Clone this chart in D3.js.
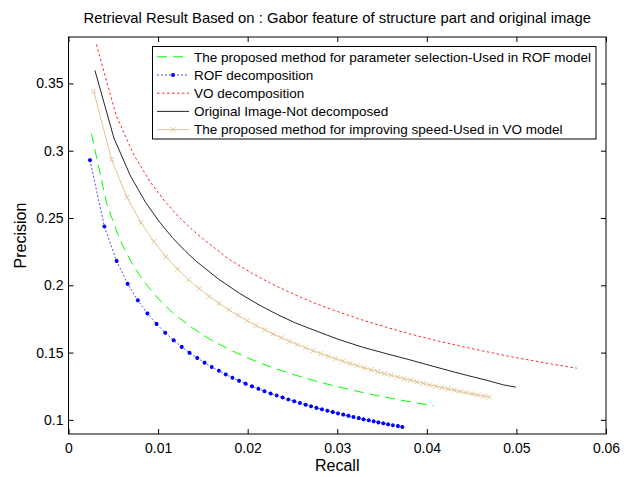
<!DOCTYPE html>
<html>
<head>
<meta charset="utf-8">
<script src="https://cdn.jsdelivr.net/npm/d3@7"></script>
<style>
  body { margin: 0; background: #fff; }
  svg { display: block; }
  text { font-family: "Liberation Sans", Arial, sans-serif; fill: #000; }
</style>
</head>
<body>
<div id="chart"></div>
<script>
// Values (recall on x, precision on y)
const recallProposedROF = [0.00256, 0.00427, 0.00575, 0.00709, 0.00834, 0.00953, 0.01066, 0.01174, 0.01381, 0.01575, 0.01761, 0.01939, 0.02111, 0.02278, 0.02518, 0.02750, 0.02975, 0.03193, 0.03404, 0.03611, 0.03813, 0.03946, 0.04074];
const precisionProposedROF = [0.3127, 0.2604, 0.2337, 0.2162, 0.2035, 0.1937, 0.1857, 0.1790, 0.1684, 0.1601, 0.1534, 0.1478, 0.1430, 0.1389, 0.1335, 0.1290, 0.1251, 0.1217, 0.1186, 0.1159, 0.1134, 0.1119, 0.1104];

const recallROF = [0.00240, 0.00400, 0.00537, 0.00660, 0.00774, 0.00881, 0.00983, 0.01080, 0.01174, 0.01264,
  0.01351, 0.01437, 0.01519, 0.01599, 0.01679, 0.01755, 0.01830, 0.01904, 0.01977, 0.02048,
  0.02120, 0.02188, 0.02256, 0.02324, 0.02390, 0.02454, 0.02520, 0.02583, 0.02647, 0.02708,
  0.02768, 0.02829, 0.02890, 0.02950, 0.03008, 0.03067, 0.03125, 0.03181, 0.03240, 0.03293,
  0.03352, 0.03406, 0.03459, 0.03514, 0.03568, 0.03621, 0.03677, 0.03727];
const precisionROF = [0.2930, 0.2437, 0.2181, 0.2011, 0.1888, 0.1791, 0.1713, 0.1647, 0.1591, 0.1542,
  0.1498, 0.1460, 0.1425, 0.1393, 0.1365, 0.1338, 0.1313, 0.1290, 0.1269, 0.1249,
  0.1231, 0.1213, 0.1196, 0.1181, 0.1166, 0.1151, 0.1138, 0.1125, 0.1113, 0.1101,
  0.1089, 0.1078, 0.1068, 0.1058, 0.1048, 0.1039, 0.1030, 0.1021, 0.1013, 0.1004,
  0.0997, 0.0989, 0.0981, 0.0974, 0.0967, 0.0960, 0.0954, 0.0947];

const recallVO = [0.00311, 0.00534, 0.00730, 0.00909, 0.01076, 0.01233, 0.01384, 0.01529, 0.01797, 0.02054, 0.02297, 0.02531, 0.02754, 0.02972, 0.03284, 0.03584, 0.03871, 0.04151, 0.04423, 0.04687, 0.04939, 0.05192, 0.05434, 0.05674];
const precisionVO = [0.3790, 0.3259, 0.2968, 0.2771, 0.2624, 0.2507, 0.2411, 0.2330, 0.2191, 0.2087, 0.2001, 0.1929, 0.1866, 0.1812, 0.1741, 0.1681, 0.1628, 0.1582, 0.1541, 0.1504, 0.1469, 0.1439, 0.1410, 0.1384];

const recallOriginal = [0.00295, 0.00507, 0.00692, 0.00859, 0.01014, 0.01159, 0.01297, 0.01428, 0.01677, 0.01909, 0.02128, 0.02337, 0.02537, 0.02736, 0.03014, 0.03283, 0.03548, 0.03800, 0.04032, 0.04253, 0.04465, 0.04669, 0.04856, 0.04994];
const precisionOriginal = [0.3597, 0.3094, 0.2812, 0.2618, 0.2472, 0.2355, 0.2259, 0.2177, 0.2045, 0.1940, 0.1854, 0.1781, 0.1719, 0.1668, 0.1598, 0.1540, 0.1492, 0.1448, 0.1405, 0.1365, 0.1328, 0.1294, 0.1260, 0.1243];

const recallSpeedVO = [0.00282, 0.00481, 0.00653, 0.00809, 0.00953, 0.01088, 0.01217, 0.01340, 0.01458, 0.01572,
  0.01682, 0.01789, 0.01893, 0.01994, 0.02092, 0.02190, 0.02283, 0.02376, 0.02468, 0.02557,
  0.02645, 0.02731, 0.02816, 0.02899, 0.02981, 0.03061, 0.03142, 0.03221, 0.03298, 0.03378,
  0.03452, 0.03527, 0.03602, 0.03675, 0.03748, 0.03820, 0.03890, 0.03960, 0.04030, 0.04100,
  0.04169, 0.04236, 0.04305, 0.04369, 0.04435, 0.04504, 0.04567, 0.04633, 0.04697];
const precisionSpeedVO = [0.3440, 0.2933, 0.2654, 0.2465, 0.2324, 0.2212, 0.2120, 0.2042, 0.1976, 0.1917,
  0.1865, 0.1818, 0.1776, 0.1737, 0.1701, 0.1669, 0.1638, 0.1610, 0.1584, 0.1559,
  0.1536, 0.1514, 0.1493, 0.1473, 0.1454, 0.1436, 0.1419, 0.1403, 0.1387, 0.1373,
  0.1358, 0.1344, 0.1331, 0.1318, 0.1306, 0.1294, 0.1282, 0.1271, 0.1260, 0.1250,
  0.1240, 0.1230, 0.1221, 0.1211, 0.1202, 0.1194, 0.1185, 0.1177, 0.1169];

const xTicks = [0, 0.01, 0.02, 0.03, 0.04, 0.05, 0.06];
const yTicks = [0.1, 0.15, 0.2, 0.25, 0.3, 0.35];
const legendLabels = [
  "The proposed method for parameter selection-Used in ROF model",
  "ROF decomposition",
  "VO decomposition",
  "Original Image-Not decomposed",
  "The proposed method for improving speed-Used in VO model"
];

// Series table (data + drawing style)
const series = [
  { r: recallProposedROF, p: precisionProposedROF, color: "#00ff00", dash: "10,6", marker: null },
  { r: recallROF, p: precisionROF, color: "#0000ff", dash: "2,2", marker: "star", lineOpacity: 0.7 },
  { r: recallVO, p: precisionVO, color: "#ff0000", dash: "2.5,2.5", marker: null, lineOpacity: 0.85 },
  { r: recallOriginal, p: precisionOriginal, color: "#000000", dash: null, marker: null, lineOpacity: 0.85 },
  { r: recallSpeedVO, p: precisionSpeedVO, color: "#e3c594", dash: null, marker: "x" }
];

const W = 631, H = 477;
const margin = { top: 37, right: 25, bottom: 43, left: 68.5 };
const width = W - margin.left - margin.right;
const height = H - margin.top - margin.bottom;

const svgRoot = d3.select("#chart").append("svg")
  .attr("width", W).attr("height", H)
  .attr("viewBox", `0 0 ${W} ${H}`);

svgRoot.append("rect").attr("width", W).attr("height", H).attr("fill", "#fff");

const svg = svgRoot.append("g")
  .attr("transform", `translate(${margin.left},${margin.top})`);

const x = d3.scaleLinear().domain([0, 0.06]).range([0, width]);
const y = d3.scaleLinear().domain([0.0895, 0.3845]).range([height, 0]);

// axes, ticks pointing inward (matlab style)
function styleAxis(g) {
  g.select(".domain").remove();
  g.selectAll(".tick line").attr("stroke", "#000");
  g.selectAll("text").style("font-size", "14px");
}
svg.append("g").attr("transform", `translate(0,${height})`)
  .call(d3.axisBottom(x).tickValues(xTicks).tickSizeInner(-5).tickSizeOuter(0).tickPadding(9).tickFormat(d => String(d)))
  .call(styleAxis);
svg.append("g")
  .call(d3.axisTop(x).tickValues(xTicks).tickSizeInner(-5).tickSizeOuter(0).tickFormat(""))
  .call(styleAxis);
svg.append("g")
  .call(d3.axisLeft(y).tickValues(yTicks).tickSizeInner(-5).tickSizeOuter(0).tickPadding(5).tickFormat(d => String(d)))
  .call(styleAxis);
svg.append("g").attr("transform", `translate(${width},0)`)
  .call(d3.axisRight(y).tickValues(yTicks).tickSizeInner(-5).tickSizeOuter(0).tickFormat(""))
  .call(styleAxis);

svg.append("rect")
  .attr("width", width).attr("height", height)
  .attr("fill", "none").attr("stroke", "#000").attr("stroke-width", 1);

// curves
const line = d3.line().x(d => x(d[0])).y(d => y(d[1]));
const starPath = r => {
  const a = r * 0.7;
  return `M${-r},0L${r},0M0,${-r}L0,${r}M${-a},${-a}L${a},${a}M${-a},${a}L${a},${-a}`;
};
const xPath = r => `M${-r},${-r}L${r},${r}M${-r},${r}L${r},${-r}`;

const plot = svg.append("g");
series.forEach(s => {
  const pts = s.r.map((rv, i) => [rv, s.p[i]]);
  plot.append("path")
    .datum(pts)
    .attr("d", line)
    .attr("fill", "none")
    .attr("stroke", s.color)
    .attr("stroke-width", 1)
    .attr("stroke-opacity", s.lineOpacity || 1)
    .attr("stroke-dasharray", s.dash);
  if (s.marker) {
    plot.append("g").selectAll("path")
      .data(pts)
      .join("path")
      .attr("transform", d => `translate(${x(d[0])},${y(d[1])})`)
      .attr("d", s.marker === "star" ? starPath(2) : xPath(2.5))
      .attr("fill", "none")
      .attr("stroke", s.color)
      .attr("stroke-width", s.marker === "star" ? 1.2 : 1);
  }
});

// legend
const legend = svgRoot.append("g");
legend.append("rect")
  .attr("x", 152.5).attr("y", 46.5).attr("width", 443.5).attr("height", 92.5)
  .attr("fill", "#fff").attr("stroke", "#000").attr("stroke-width", 1);

series.forEach((s, i) => {
  const ly = 56.8 + i * 18.2;
  legend.append("line")
    .attr("x1", 157).attr("x2", 189).attr("y1", ly).attr("y2", ly)
    .attr("stroke", s.color)
    .attr("stroke-opacity", s.lineOpacity || 1)
    .attr("stroke-dasharray", s.dash);
  if (s.marker) {
    legend.append("path")
      .attr("transform", `translate(173,${ly})`)
      .attr("d", s.marker === "star" ? starPath(2) : xPath(2.5))
      .attr("fill", "none")
      .attr("stroke", s.color)
      .attr("stroke-width", s.marker === "star" ? 1.2 : 1);
  }
  legend.append("text")
    .attr("x", 194).attr("y", ly).attr("dy", "0.35em")
    .style("font-size", "13.5px")
    .text(legendLabels[i]);
});

// title and axis labels
svgRoot.append("text")
  .attr("x", margin.left + width / 2).attr("y", 23)
  .attr("text-anchor", "middle")
  .style("font-size", "14.8px")
  .text("Retrieval Result Based on : Gabor feature of structure part and original image");

svgRoot.append("text")
  .attr("x", margin.left + width / 2).attr("y", 471)
  .attr("text-anchor", "middle")
  .style("font-size", "16px")
  .text("Recall");

svgRoot.append("text")
  .attr("transform", `translate(26,${margin.top + height / 2}) rotate(-90)`)
  .attr("text-anchor", "middle")
  .style("font-size", "16px")
  .text("Precision");
</script>
</body>
</html>
